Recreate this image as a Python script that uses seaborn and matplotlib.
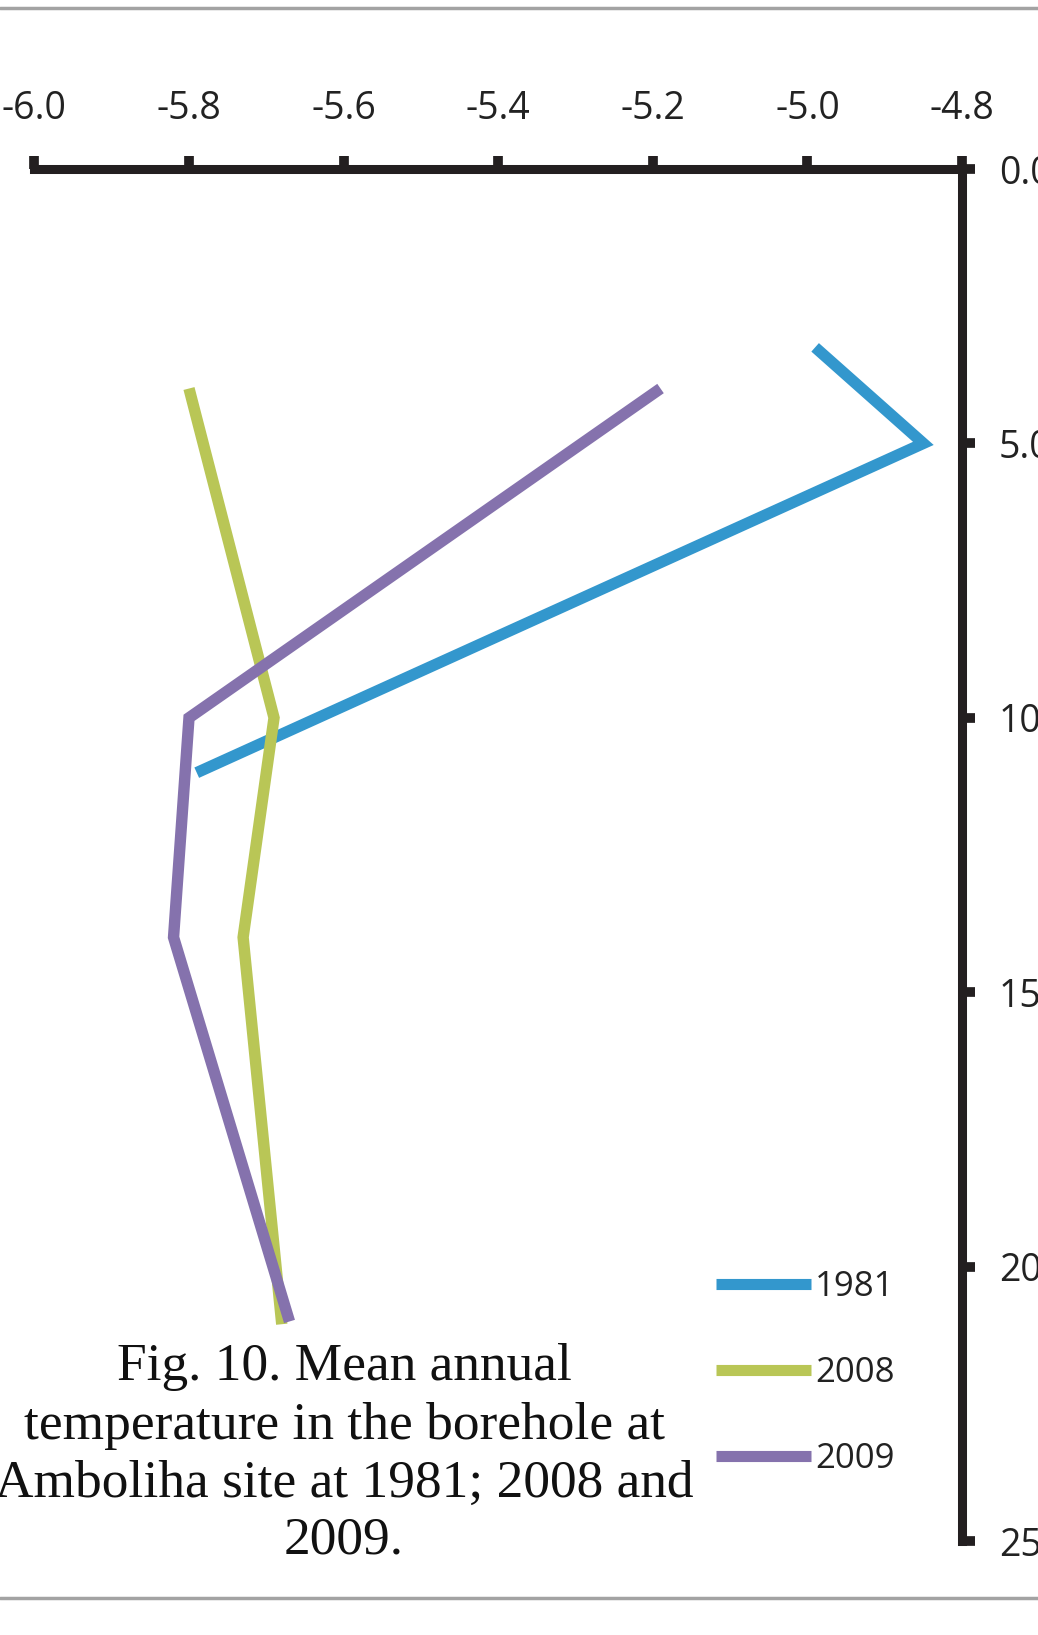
import numpy as np
import pandas as pd
import matplotlib
matplotlib.use("Agg")
import matplotlib.pyplot as plt
from matplotlib.lines import Line2D
from matplotlib.ticker import FormatStrFormatter
import seaborn as sns

# ---- data ----
years = ["1981", "2008", "2009"]
depth_1981 = [3.25, 5.0, 11.0]
temp_1981 = [-4.99, -4.85, -5.79]
depth_2008 = [4.0, 10.0, 14.0, 21.05]
temp_2008 = [-5.80, -5.69, -5.73, -5.68]
depth_2009 = [4.0, 10.0, 14.0, 21.0]
temp_2009 = [-5.19, -5.80, -5.82, -5.67]
x_ticks = [-6.0, -5.8, -5.6, -5.4, -5.2, -5.0, -4.8]
y_ticks = [0, 5, 10, 15, 20, 25]
caption_lines = ["Fig. 10. Mean annual", "temperature in the borehole at",
                 "Amboliha site at 1981; 2008 and", "2009."]
colors = {"1981": "#3397CD", "2008": "#B9C656", "2009": "#8572AD"}

df = pd.concat([
    pd.DataFrame({"year": "1981", "depth": depth_1981, "temp": temp_1981}),
    pd.DataFrame({"year": "2008", "depth": depth_2008, "temp": temp_2008}),
    pd.DataFrame({"year": "2009", "depth": depth_2009, "temp": temp_2009}),
], ignore_index=True)

sns.set_theme(style="white")
plt.rcParams["font.family"] = ["Open Sans", "DejaVu Sans"]

W, H = 1038, 1635
fig = plt.figure(figsize=(W / 100, H / 100), dpi=100)
fig.patch.set_facecolor("white")
ax = fig.add_axes([34.4 / W, 1 - 1541 / H, (962 - 34.4) / W, (1541 - 169) / H])
ax.set_facecolor("white")

sns.lineplot(data=df, x="temp", y="depth", hue="year", palette=colors,
             hue_order=years, orient="y", sort=False, errorbar=None,
             linewidth=8.2, solid_capstyle="butt", solid_joinstyle="miter",
             ax=ax, legend=True)
for ln in ax.get_lines():
    ln.set_linewidth(8.2)

dark = "#231F20"
ax.set_xlim(-6.0, -4.8)
ax.set_ylim(25, 0)
ax.set_xticks(x_ticks)
ax.set_yticks(y_ticks)
ax.xaxis.set_major_formatter(FormatStrFormatter("%.1f"))
ax.yaxis.set_major_formatter(FormatStrFormatter("%.1f"))
ax.xaxis.tick_top()
ax.yaxis.tick_right()
ax.set_xlabel("")
ax.set_ylabel("")
for s in ["left", "bottom"]:
    ax.spines[s].set_visible(False)
for s in ["top", "right"]:
    ax.spines[s].set_visible(True)
    ax.spines[s].set_linewidth(6.5)
    ax.spines[s].set_color(dark)
    ax.spines[s].set_capstyle("projecting")
ax.tick_params(axis="x", which="major", direction="out", length=9.5, width=7,
               color=dark, labelsize=27, labelcolor="#222222", pad=20,
               top=True, bottom=False)
ax.tick_params(axis="y", which="major", direction="out", length=9.5, width=7,
               color=dark, labelsize=27, labelcolor="#222222", pad=17,
               right=True, left=False)
for lbl in ax.get_xticklabels() + ax.get_yticklabels():
    lbl.set_clip_on(False)
ax.grid(False)

if ax.get_legend() is not None:
    ax.get_legend().remove()
leg_handles = [Line2D([0], [0], color=colors[y], linewidth=8, solid_capstyle="butt")
               for y in years]
leg = fig.legend(leg_handles, years, loc="upper left",
                 bbox_to_anchor=(716 / W, 1 - 1270 / H), frameon=False,
                 fontsize=25, handlelength=2.75, handletextpad=0.1,
                 labelspacing=1.5, borderpad=0, borderaxespad=0)
for t in leg.get_texts():
    t.set_color("#222222")

# caption (baselines)
cap_y = [1380, 1439, 1497, 1553]
for line, yy in zip(caption_lines, cap_y):
    fig.text(344 / W, 1 - yy / H, line, ha="center", va="baseline",
             family=["Liberation Serif", "DejaVu Serif"], fontsize=38.4, color="#111111")

# page rules
for yy in [8, 1598]:
    fig.add_artist(Line2D([0, 1], [1 - yy / H, 1 - yy / H], transform=fig.transFigure,
                          color="#A3A3A3", linewidth=2.5))

fig.savefig("out.png", dpi=100, facecolor="white")
